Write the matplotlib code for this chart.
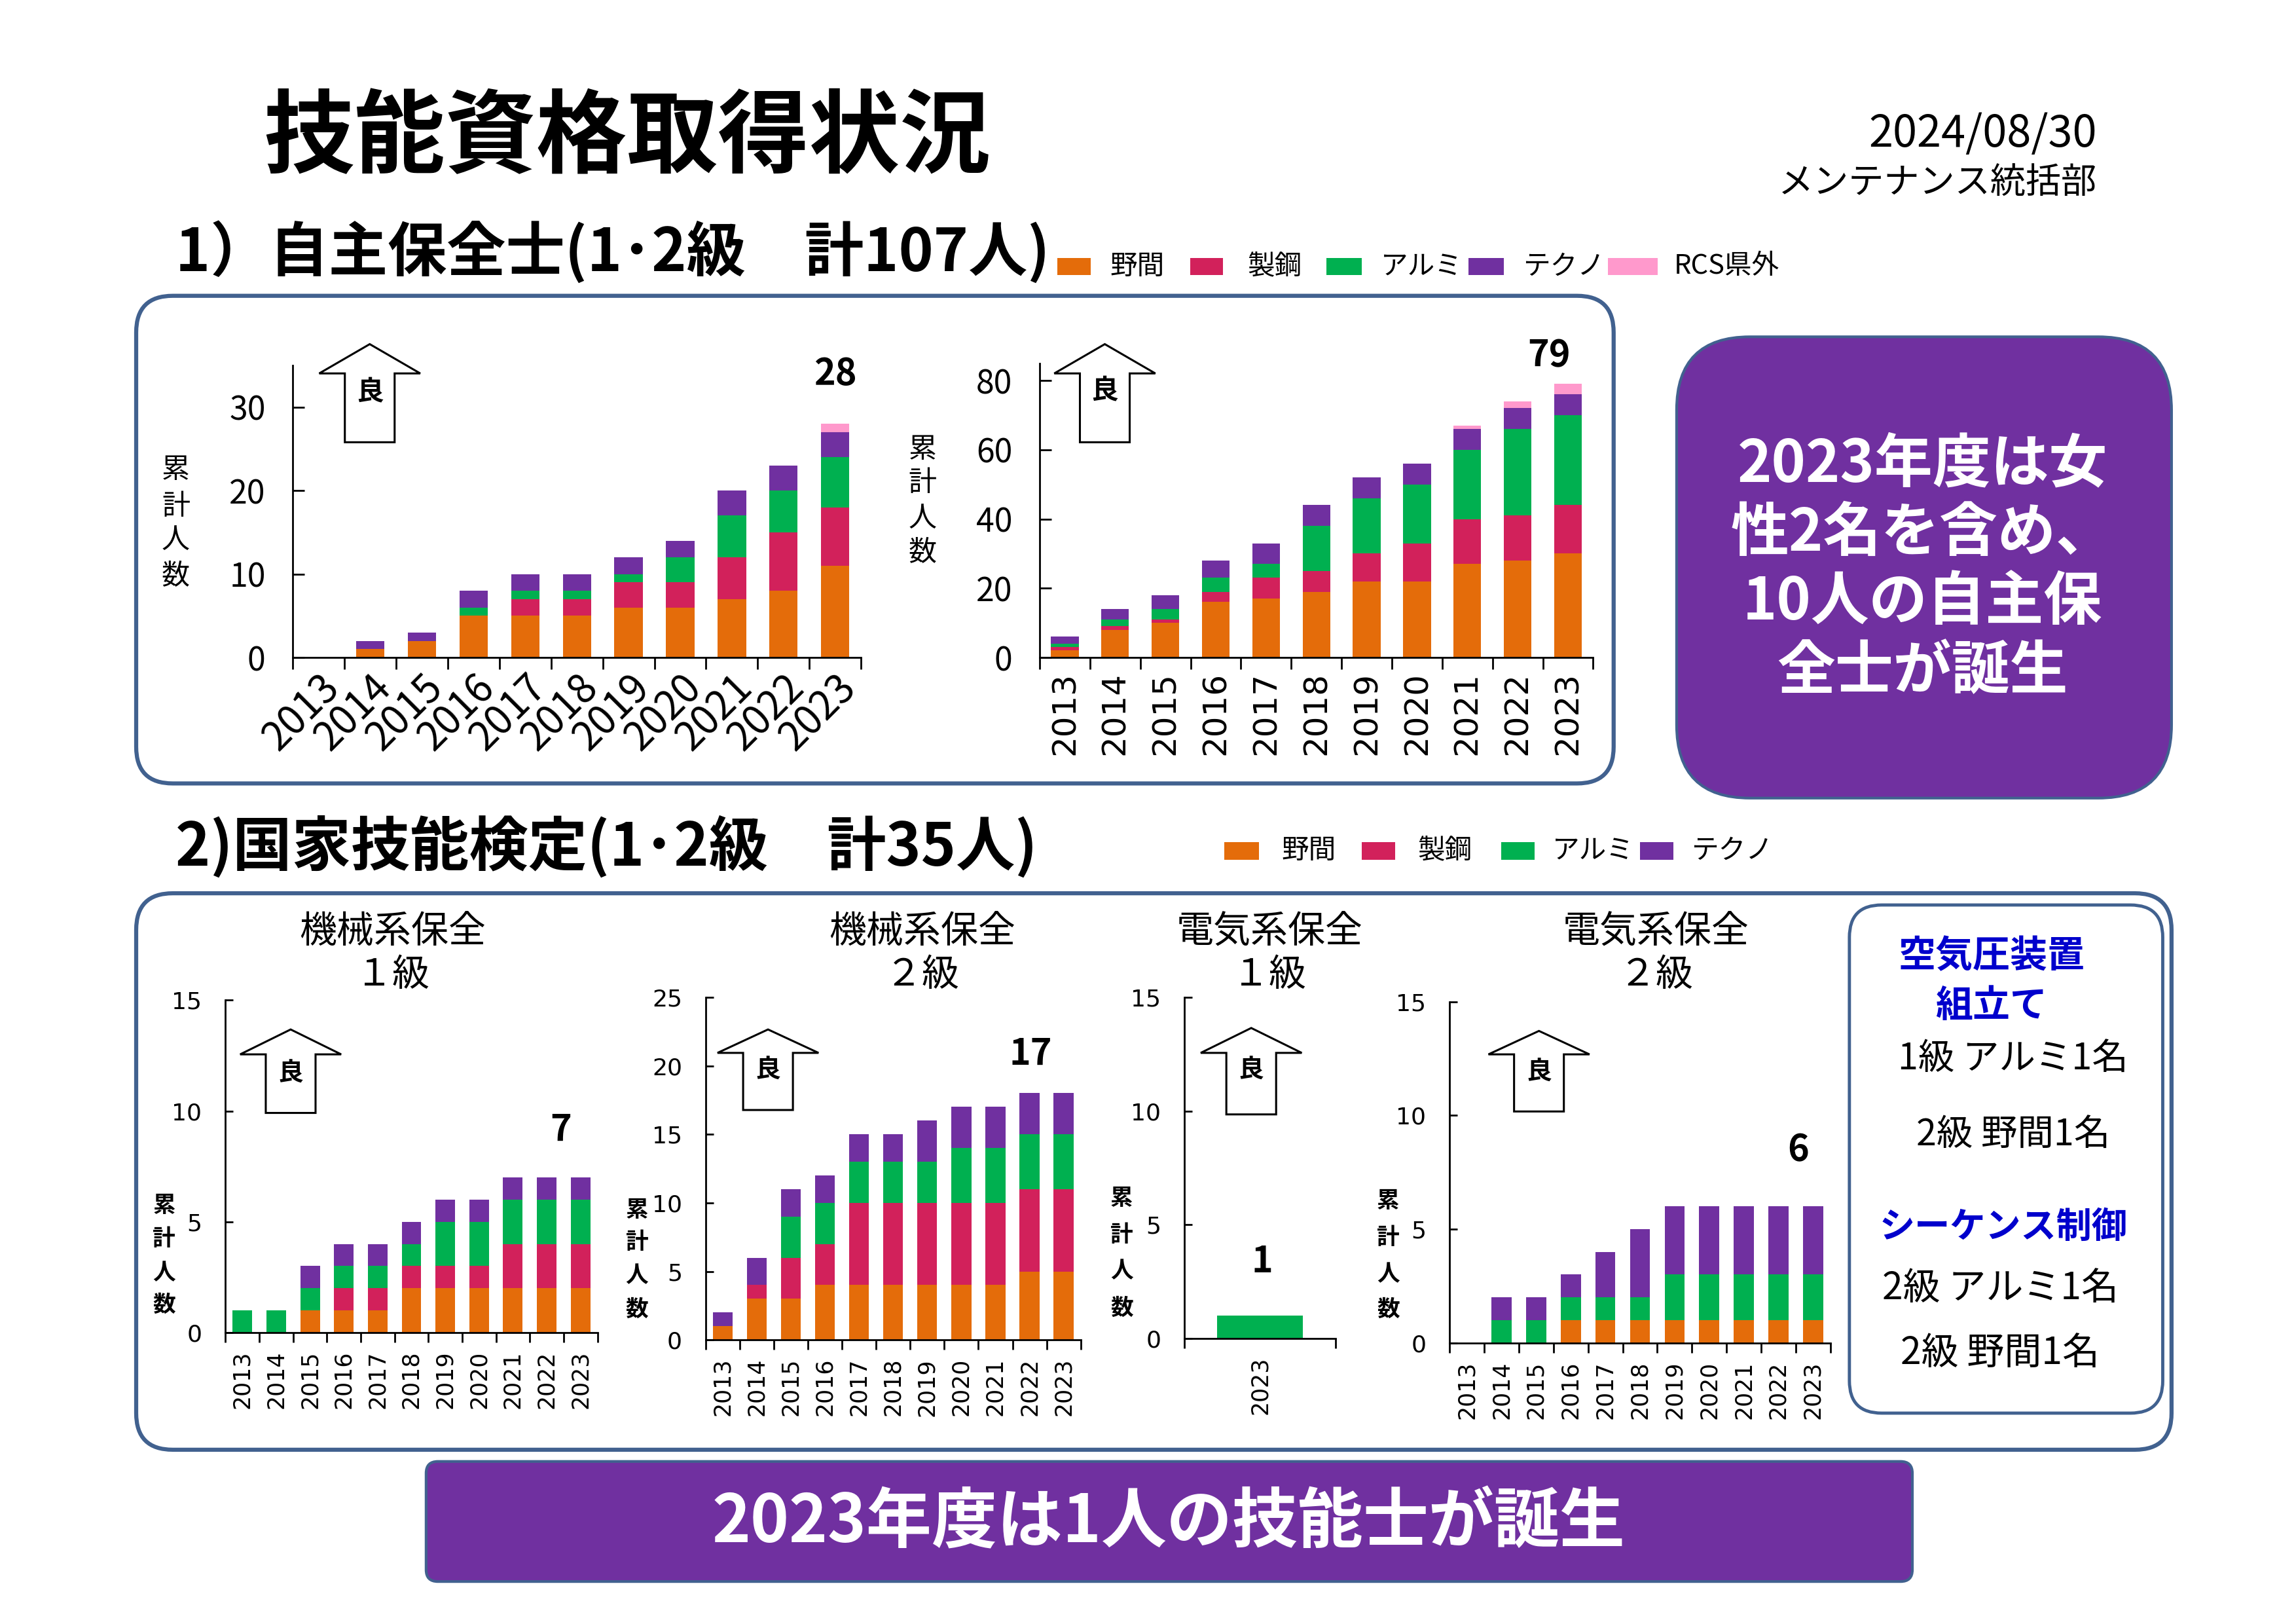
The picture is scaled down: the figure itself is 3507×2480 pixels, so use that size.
import numpy as np
import matplotlib.pyplot as plt
from matplotlib.patches import FancyBboxPatch, Polygon, Rectangle

plt.rcParams['font.family'] = ['Noto Sans CJK JP', 'DejaVu Sans']

# ---- data -------------------------------------------------------------
years = ['2013', '2014', '2015', '2016', '2017', '2018', '2019', '2020', '2021', '2022', '2023']
names = ['野間', '製鋼', 'アルミ', 'テクノ', 'RCS県外']
colors = ['#E46C0A', '#D2215B', '#00B050', '#7030A0', '#FF99CC']

# 1) 自主保全士 (left chart)
js_a_noma = [0, 1, 2, 5, 5, 5, 6, 6, 7, 8, 11]
js_a_seiko = [0, 0, 0, 0, 2, 2, 3, 3, 5, 7, 7]
js_a_alumi = [0, 0, 0, 1, 1, 1, 1, 3, 5, 5, 6]
js_a_tekuno = [0, 1, 1, 2, 2, 2, 2, 2, 3, 3, 3]
js_a_rcs = [0, 0, 0, 0, 0, 0, 0, 0, 0, 0, 1]

# 1) 自主保全士 (right chart)
js_b_noma = [2, 8, 10, 16, 17, 19, 22, 22, 27, 28, 30]
js_b_seiko = [1, 1, 1, 3, 6, 6, 8, 11, 13, 13, 14]
js_b_alumi = [1, 2, 3, 4, 4, 13, 16, 17, 20, 25, 26]
js_b_tekuno = [2, 3, 4, 5, 6, 6, 6, 6, 6, 6, 6]
js_b_rcs = [0, 0, 0, 0, 0, 0, 0, 0, 1, 2, 3]

# 2) 機械系保全 1級
k1_noma = [0, 0, 1, 1, 1, 2, 2, 2, 2, 2, 2]
k1_seiko = [0, 0, 0, 1, 1, 1, 1, 1, 2, 2, 2]
k1_alumi = [1, 1, 1, 1, 1, 1, 2, 2, 2, 2, 2]
k1_tekuno = [0, 0, 1, 1, 1, 1, 1, 1, 1, 1, 1]

# 2) 機械系保全 2級
k2_noma = [1, 3, 3, 4, 4, 4, 4, 4, 4, 5, 5]
k2_seiko = [0, 1, 3, 3, 6, 6, 6, 6, 6, 6, 6]
k2_alumi = [0, 0, 3, 3, 3, 3, 3, 4, 4, 4, 4]
k2_tekuno = [1, 2, 2, 2, 2, 2, 3, 3, 3, 3, 3]

# 2) 電気系保全 1級
e1_years = ['2023']
e1_noma = [0]
e1_seiko = [0]
e1_alumi = [1]
e1_tekuno = [0]

# 2) 電気系保全 2級
e2_noma = [0, 0, 0, 1, 1, 1, 1, 1, 1, 1, 1]
e2_seiko = [0, 0, 0, 0, 0, 0, 0, 0, 0, 0, 0]
e2_alumi = [0, 1, 1, 1, 1, 1, 2, 2, 2, 2, 2]
e2_tekuno = [0, 1, 1, 1, 2, 3, 3, 3, 3, 3, 3]

top_labels = ['28', '79']
bottom_labels = ['7', '17', '1', '6']

# ---- figure -----------------------------------------------------------
W, H = 1568, 1109
fig = plt.figure(figsize=(35.07, 24.80), dpi=100)
bg = fig.add_axes([0, 0, 1, 1])
bg.set_xlim(0, W)
bg.set_ylim(H, 0)
bg.axis('off')

edge = '#41618F'
purple = '#7030A0'


def rbox(x0, x1, y0, y1, r, fc='none', lw=4.5):
    bg.add_patch(FancyBboxPatch((x0, y0), x1 - x0, y1 - y0,
                                boxstyle=f"round,pad=0,rounding_size={r}",
                                fc=fc, ec=edge, lw=lw))


def up_arrow(cx, tip, head, bottom, label_y, fs):
    hw, sw = 34.5, 17
    pts = [(cx, tip), (cx + hw, head), (cx + sw, head), (cx + sw, bottom),
           (cx - sw, bottom), (cx - sw, head), (cx - hw, head)]
    bg.add_patch(Polygon(pts, closed=True, fc='white', ec='black', lw=2.2))
    bg.text(cx, label_y, '良', ha='center', va='center', fontsize=fs, fontweight='bold')


def stacked_label(x, ys, fs, bold):
    for ch, y in zip('累計人数', ys):
        bg.text(x, y, ch, ha='center', va='center', fontsize=fs,
                fontweight='bold' if bold else 'normal')


def axes_at(x0, x1, ytop, ybot):
    return fig.add_axes([x0 / W, 1 - ybot / H, (x1 - x0) / W, (ybot - ytop) / H])


def draw_chart(ax, cats, layers, width, ylim, yticks, top, label, offset):
    x = np.arange(len(cats))
    bottom = np.zeros(len(cats))
    for vals, col in layers:
        ax.bar(x, vals, width, bottom=bottom, color=col, linewidth=0)
        bottom = bottom + np.array(vals)
    ax.set_facecolor('none')
    ax.spines['top'].set_visible(False)
    ax.spines['right'].set_visible(False)
    ax.spines['left'].set_linewidth(2)
    ax.spines['bottom'].set_linewidth(2)
    ax.set_xlim(-0.5, len(cats) - 0.5)
    ax.set_ylim(*ylim)
    ax.set_yticks(yticks)
    ax.set_xticks(x)
    ax.set_xticks(np.arange(len(cats) + 1) - 0.5, minor=True)
    if top:
        ax.tick_params(axis='y', direction='in', length=13, width=2, pad=30, labelsize=36)
        ax.tick_params(axis='x', which='minor', direction='out', length=13, width=2)
    else:
        ax.tick_params(axis='y', direction='in', length=8.5, width=2, pad=26, labelsize=26)
        ax.tick_params(axis='x', which='minor', direction='out', length=10.5, width=2)
        for t in ax.get_yticklabels():
            t.set_fontfamily('DejaVu Sans')
    ax.annotate(label, xy=(x[-1], bottom[-1]), xytext=offset, textcoords='offset points',
                ha='center', va='center', fontsize=40, fontweight='bold')
    return x


# ---- header -------------------------------------------------------------
bg.text(180, 95, '技能資格取得状況', fontsize=100, fontweight='bold', ha='left', va='center')
bg.text(1432, 92, '2024/08/30', fontsize=48, ha='right', va='center')
bg.text(1432, 125, 'メンテナンス統括部', fontsize=39, ha='right', va='center')
bg.text(120, 172, '1）自主保全士(1･2級　計107人)', fontsize=65, fontweight='bold',
        ha='left', va='center')
bg.text(120, 578, '2)国家技能検定(1･2級　計35人)', fontsize=65, fontweight='bold',
        ha='left', va='center')

# legends
for (sx0, sx1), tx, name, col in zip([(722, 745), (813, 835), (906, 930), (1003, 1027), (1098, 1132)],
                                     [758, 852, 943, 1040, 1143], names, colors):
    bg.add_patch(Rectangle((sx0, 176), sx1 - sx0, 12, fc=col, ec='none'))
    bg.text(tx, 182, name, fontsize=30, ha='left', va='center')
for (sx0, sx1), tx, name, col in zip([(836, 860), (930, 953), (1025, 1048), (1120, 1143)],
                                     [875, 968, 1060, 1155], names[:4], colors[:4]):
    bg.add_patch(Rectangle((sx0, 575), sx1 - sx0, 12, fc=col, ec='none'))
    bg.text(tx, 581, name, fontsize=30, ha='left', va='center')

# boxes
rbox(93, 1102, 202, 535, 25)
rbox(1145, 1483, 230, 545, 50, fc=purple, lw=3)
bg.text(1313, 388, '2023年度は女\n性2名を含め、\n10人の自主保\n全士が誕生', ha='center', va='center',
        color='white', fontsize=64, fontweight='bold', linespacing=1.22)
rbox(93, 1483, 610, 990, 25)
rbox(1263, 1477, 618, 965, 22, lw=3.5)
rbox(291, 1306, 998, 1080, 8, fc=purple, lw=3)
bg.text(798, 1040, '2023年度は1人の技能士が誕生', ha='center', va='center',
        color='white', fontsize=72, fontweight='bold')

blue = '#0000CC'
bg.text(1360, 653, '空気圧装置', color=blue, fontsize=41, fontweight='bold', ha='center', va='center')
bg.text(1360, 687, '組立て', color=blue, fontsize=41, fontweight='bold', ha='center', va='center')
bg.text(1375, 723, '1級 アルミ1名', fontsize=40, ha='center', va='center')
bg.text(1375, 775, '2級 野間1名', fontsize=40, ha='center', va='center')
bg.text(1368, 838, 'シーケンス制御', color=blue, fontsize=39, fontweight='bold', ha='center', va='center')
bg.text(1366, 880, '2級 アルミ1名', fontsize=41, ha='center', va='center')
bg.text(1366, 924, '2級 野間1名', fontsize=41, ha='center', va='center')

# chart titles
for cx, t in [(268, '機械系保全\n１級'), (630, '機械系保全\n２級'),
              (867, '電気系保全\n１級'), (1131, '電気系保全\n２級')]:
    bg.text(cx, 651, t, ha='center', va='center', fontsize=41, linespacing=1.15)

# arrows and axis captions
up_arrow(252.5, 235, 255, 302, 268, 30)
up_arrow(754.5, 235, 255, 302, 267, 30)
up_arrow(198.5, 703, 720, 760, 733, 28)
up_arrow(524.5, 703, 719, 758, 731, 28)
up_arrow(854.5, 702, 719, 761, 731, 28)
up_arrow(1051, 704, 720, 759, 732, 28)
stacked_label(120, [321, 346, 369, 393], 31, False)
stacked_label(630, [307, 330, 354, 377], 31, False)
stacked_label(112, [823, 846, 869, 891], 25, True)
stacked_label(435, [826, 848, 871, 894], 25, True)
stacked_label(766, [818, 843, 868, 893], 25, True)
stacked_label(948, [820, 845, 870, 894], 25, True)

# ---- charts ---------------------------------------------------------------
ax1 = axes_at(200, 588, 249.5, 449)
draw_chart(ax1, years,
           list(zip([js_a_noma, js_a_seiko, js_a_alumi, js_a_tekuno, js_a_rcs], colors)),
           0.55, (0, 35), [0, 10, 20, 30], True, top_labels[0], (0, 55))
ax1.set_xticklabels(years, rotation=45, ha='right', va='top', rotation_mode='anchor')
ax1.tick_params(axis='x', which='major', length=0, pad=10, labelsize=44)

ax2 = axes_at(710, 1088, 248, 449)
draw_chart(ax2, years,
           list(zip([js_b_noma, js_b_seiko, js_b_alumi, js_b_tekuno, js_b_rcs], colors)),
           0.55, (0, 85), [0, 20, 40, 60, 80], True, top_labels[1], (-21, 31))
ax2.set_xticklabels(years, rotation=90, fontfamily='DejaVu Sans')
ax2.tick_params(axis='x', which='major', length=0, pad=16, labelsize=36)

bottom_sets = [
    ((154, 408, 683, 910), years, [k1_noma, k1_seiko, k1_alumi, k1_tekuno], 0.58, (0, 15),
     [0, 5, 10, 15], (-22, 52)),
    ((482, 738, 681, 915), years, [k2_noma, k2_seiko, k2_alumi, k2_tekuno], 0.58, (0, 25),
     [0, 5, 10, 15, 20, 25], (-36, 43)),
    ((809, 912, 681, 914), e1_years, [e1_noma, e1_seiko, e1_alumi, e1_tekuno], 0.57, (0, 15),
     [0, 5, 10, 15], (2, 59)),
    ((990, 1250, 684, 917), years, [e2_noma, e2_seiko, e2_alumi, e2_tekuno], 0.58, (0, 15),
     [0, 5, 10, 15], (-16, 62)),
]
for (pos, cats, series, wd, ylim, yt, off), lab in zip(bottom_sets, bottom_labels):
    ax = axes_at(*pos)
    draw_chart(ax, cats, list(zip(series, colors)), wd, ylim, yt, False, lab, off)
    ax.set_xticklabels(cats, rotation=90, fontfamily='DejaVu Sans')
    ax.tick_params(axis='x', which='major', length=0, pad=20, labelsize=25)

fig.savefig('out.png', dpi=100, facecolor='white')
